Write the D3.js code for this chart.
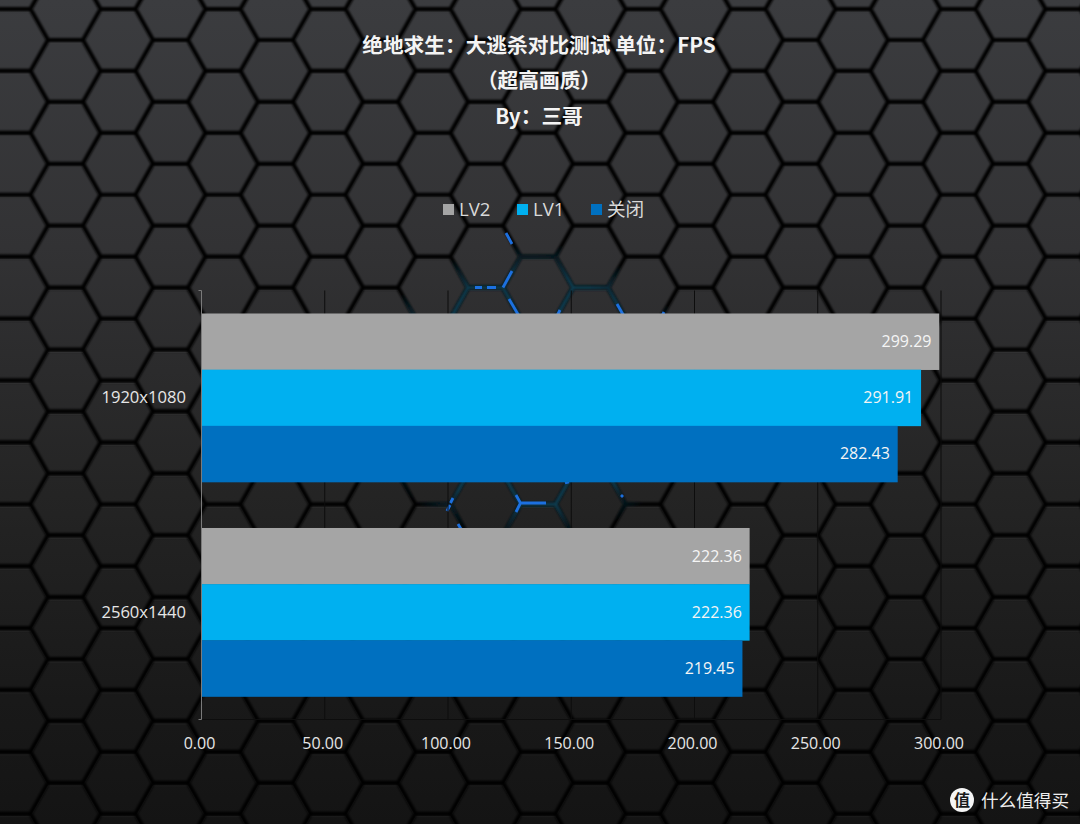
<!DOCTYPE html>
<html><head><meta charset="utf-8">
<script src="https://cdn.jsdelivr.net/npm/d3@7/dist/d3.min.js"></script>
<style>html,body{margin:0;padding:0;background:#151515;overflow:hidden}svg{display:block}</style>
</head><body><div id="c"></div>
<script>
const categories = ["1920x1080", "2560x1440"];
const seriesNames = ["LV2", "LV1", "关闭"];
const lv2Values = [299.29, 222.36];
const lv1Values = [291.91, 222.36];
const offValues = [282.43, 219.45];
const seriesColors = ["#a5a5a5", "#00b0f0", "#0070c0"];
const xTicks = [0, 50, 100, 150, 200, 250, 300];
const titleLines = ["绝地求生：大逃杀对比测试 单位：FPS", "（超高画质）", "By：三哥"];
const seriesValues = [lv2Values, lv1Values, offValues];

const W = 1080, H = 824;
const FONT = "'Open Sans','Noto Sans CJK SC',sans-serif";
const svg = d3.select("#c").append("svg").attr("width", W).attr("height", H);
const defs = svg.append("defs");

const bg = defs.append("linearGradient").attr("id", "bg").attr("x1", 0).attr("x2", 0).attr("y1", 0).attr("y2", 1);
[[0, "#3b3c3f"], [0.3, "#323234"], [0.6, "#242424"], [0.85, "#191919"], [1, "#141414"]]
  .forEach(s => bg.append("stop").attr("offset", s[0]).attr("stop-color", s[1]));
const glow = defs.append("radialGradient").attr("id", "glow").attr("gradientUnits", "userSpaceOnUse")
  .attr("cx", 0).attr("cy", 0).attr("r", 1)
  .attr("gradientTransform", "translate(530,392) scale(170,150)");
[[0, "#124459", 1], [0.78, "#113a4c", 1], [1, "#113a4c", 0]]
  .forEach(s => glow.append("stop").attr("offset", s[0]).attr("stop-color", s[1]).attr("stop-opacity", s[2]));
const soft = defs.append("filter").attr("id", "soft");
soft.append("feGaussianBlur").attr("stdDeviation", 0.8);
const softer = defs.append("filter").attr("id", "softer");
softer.append("feGaussianBlur").attr("stdDeviation", 0.6);

// Background honeycomb
const hx = 52.5, hy = 61.9, r = 35, x0 = 65.5, y0 = 40 + hy / 2;
let mesh = "";
for (let c = -2; c < 23; c++) {
  for (let k = -2; k < 16; k++) {
    const cx = x0 + c * hx, cy = y0 + k * hy + (c % 2 ? hy / 2 : 0);
    mesh += "M" + [[-r / 2, -hy / 2], [r / 2, -hy / 2], [r, 0], [r / 2, hy / 2], [-r / 2, hy / 2], [-r, 0]]
      .map(p => (cx + p[0]) + "," + (cy + p[1])).join("L") + "Z";
  }
}
svg.append("rect").attr("width", W).attr("height", H).attr("fill", "url(#bg)");
svg.append("path").attr("d", mesh).attr("fill", "none").attr("stroke", "#fff").attr("stroke-opacity", 0.045)
  .attr("stroke-width", 1).attr("transform", "translate(0,3)");
svg.append("path").attr("d", mesh).attr("fill", "none").attr("stroke", "#030303").attr("stroke-width", 4.2)
  .attr("filter", "url(#soft)");
svg.append("path").attr("d", mesh).attr("fill", "none").attr("stroke", "url(#glow)").attr("stroke-width", 3.8)
  .attr("filter", "url(#soft)");
const blueEdges = [
  "M475,287.5H482", "M487,287.5H496", "M503,287.5L512,271", "M509,299L519,316", "M506,233L512,244",
  "M617,304L625,318", "M556,318L560,310", "M661,318L664,312",
  "M516,495L520.5,503L516,512", "M520.5,503H546", "M450.5,503L453,498", "M450,505L447,511",
  "M458,524L461,529", "M565,483L569,482", "M621,495L623,497"
];
svg.append("path").attr("d", blueEdges.join("")).attr("fill", "none").attr("stroke", "#1f6fe0")
  .attr("stroke-width", 2.8).attr("filter", "url(#softer)");

// Chart
const plot = { left: 201.5, right: 941, top: 290.5, bottom: 719.5 };
const x = d3.scaleLinear().domain([0, 300]).range([plot.left, plot.right]);
const y = d3.scaleBand().domain(categories).range([plot.top, plot.bottom]).paddingInner(0.2143).paddingOuter(0.1072);
const yInner = d3.scaleBand().domain(seriesNames).range([0, y.bandwidth()]);

const g = svg.append("g");
g.append("g").selectAll("line").data(xTicks.slice(1)).join("line")
  .attr("x1", d => x(d)).attr("x2", d => x(d)).attr("y1", plot.top).attr("y2", plot.bottom)
  .attr("stroke", "#0d0d0d").attr("stroke-width", 1);
g.append("line").attr("x1", plot.left).attr("x2", plot.right).attr("y1", plot.bottom).attr("y2", plot.bottom)
  .attr("stroke", "#0d0d0d");

const groups = g.selectAll("g.cat").data(categories).join("g").attr("class", "cat")
  .attr("transform", d => `translate(0,${y(d)})`);
groups.each(function (cat, ci) {
  const grp = d3.select(this);
  seriesNames.forEach((s, si) => {
    const v = seriesValues[si][ci];
    grp.append("rect").attr("x", x(0)).attr("y", yInner(s))
      .attr("width", x(v) - x(0)).attr("height", yInner.bandwidth() + 0.3).attr("fill", seriesColors[si]);
    grp.append("text").attr("x", x(v) - 7.8).attr("y", yInner(s) + yInner.bandwidth() / 2 + 5.5)
      .attr("text-anchor", "end").attr("font-family", FONT).attr("font-size", 16).attr("fill", "#f5f5f5")
      .text(v.toFixed(2));
  });
});

// Axes
const xAxis = g.append("g").attr("transform", `translate(0,${plot.bottom})`)
  .call(d3.axisBottom(x).tickValues(xTicks).tickFormat(d3.format(".2f")).tickSize(0).tickPadding(0));
xAxis.select(".domain").remove();
xAxis.selectAll("text").attr("font-family", FONT).attr("font-size", 16).attr("fill", "#e6e6e6")
  .attr("dy", 0).attr("y", 29).attr("dx", -2.5);

const yAxis = g.append("g").attr("transform", `translate(${plot.left},0)`)
  .call(d3.axisLeft(y).tickSize(0).tickPadding(15.5));
yAxis.select(".domain").attr("stroke", "#7a7a7a").attr("stroke-width", 1)
  .attr("d", `M-3,${plot.top}H0V${plot.bottom}H-3`);
yAxis.selectAll("text").attr("font-family", FONT).attr("font-size", 16.6).attr("fill", "#e6e6e6")
  .attr("dy", 5.5).attr("y", 0);

// Title
svg.append("g").selectAll("text").data(titleLines).join("text")
  .attr("x", 539).attr("y", (d, i) => [53, 88, 124][i]).attr("text-anchor", "middle")
  .attr("font-family", "'Noto Sans CJK SC','Open Sans',sans-serif").attr("font-weight", 700)
  .attr("font-size", 20.7).attr("fill", "#f4f4f4").text(d => d);

// Legend
const legendX = [443, 517, 591];
const legend = svg.append("g").selectAll("g").data(seriesNames).join("g")
  .attr("transform", (d, i) => `translate(${legendX[i]},204)`);
legend.append("rect").attr("width", 11).attr("height", 11).attr("fill", (d, i) => seriesColors[i]);
legend.append("text").attr("x", 16).attr("y", 12).attr("font-family", FONT).attr("font-size", 18.6)
  .attr("fill", "#d9d9d9").text(d => d);

// Watermark
const wm = svg.append("g");
wm.append("circle").attr("cx", 962).attr("cy", 800).attr("r", 12).attr("fill", "#f5f5f5");
wm.append("text").attr("x", 962).attr("y", 806).attr("text-anchor", "middle")
  .attr("font-family", "'Noto Sans CJK SC',sans-serif").attr("font-weight", 700).attr("font-size", 16)
  .attr("fill", "#1a1a1a").text("值");
wm.append("text").attr("x", 981).attr("y", 807).attr("font-family", "'Noto Sans CJK SC',sans-serif")
  .attr("font-size", 17.6).attr("fill", "#eeeeee").text("什么值得买");
</script>
</body></html>
